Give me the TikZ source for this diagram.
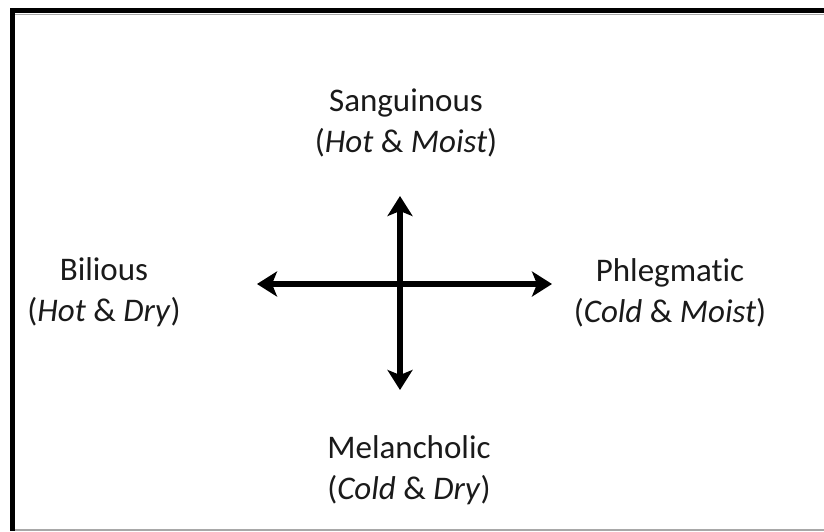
\documentclass[tikz,border=0pt]{standalone}
\usepackage{fontspec}
\setmainfont{Carlito}[Ligatures=CommonOff]
\usetikzlibrary{arrows.meta}
\definecolor{humourtext}{HTML}{1A1A1A}
\definecolor{framegray}{HTML}{A8A8A8}
\tikzset{
  humour/.style={align=center, text=humourtext, inner sep=0pt,
                 font=\fontsize{33}{41}\selectfont},
  axisarrow/.style={line width=6.5pt, {Stealth[length=20pt, width=25pt, inset=5pt]}-{Stealth[length=20pt, width=25pt, inset=5pt]}},
}

\begin{document}
\begin{tikzpicture}[x=1pt, y=-1pt]
    \useasboundingbox (0,0) rectangle (824,531);
    \fill[white] (0,0) rectangle (824,531);
    % frame
    \fill[black] (10,8) rectangle (824,13);
    \fill[black] (10,8) rectangle (15,531);
    \draw[framegray, line width=1pt] (15,14) -- (824,14);
    \draw[framegray, line width=1.5pt] (15,530) -- (824,530);
    % humours
    \node[humour] (sang) at (406,123) {Sanguinous\\(\textit{Hot} \& \textit{Moist})};
    \node[humour] (bil) at (104,292) {Bilious\\(\textit{Hot} \& \textit{Dry})};
    \node[humour] (phl) at (670,293) {Phlegmatic\\(\textit{Cold} \& \textit{Moist})};
    \node[humour] (mel) at (409,470) {Melancholic\\(\textit{Cold} \& \textit{Dry})};
    % axes
    \coordinate (west) at (257,284);
    \coordinate (east) at (552,284);
    \coordinate (north) at (400,196);
    \coordinate (south) at (400,390);
    \draw[axisarrow] (west) -- (east);
    \draw[axisarrow] (north) -- (south);
  \end{tikzpicture}
\end{document}
